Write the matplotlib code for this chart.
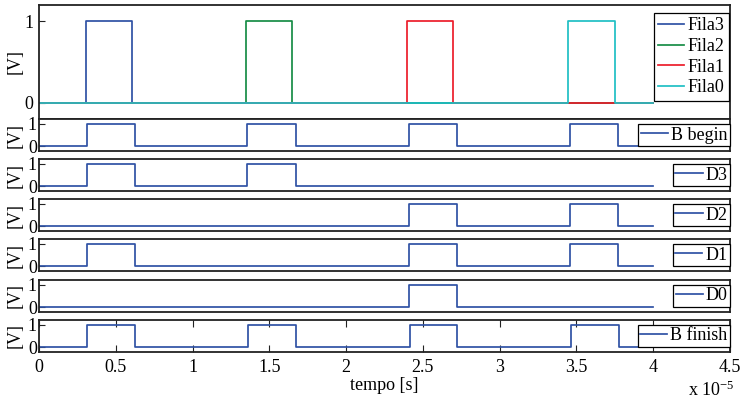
import matplotlib

matplotlib.use("Agg")
import matplotlib.pyplot as plt

plt.rcParams["font.family"] = ["Liberation Serif", "DejaVu Serif"]
plt.rcParams["mathtext.fontset"] = "stix"
plt.rcParams["font.size"] = 13

# tempos em unidades de 1e-5 s; cada lista alterna subida/descida
T_END = 4.0
fila3_edges = [0.306, 0.607]
fila2_edges = [1.348, 1.649]
fila1_edges = [2.394, 2.697]
fila0_edges = [3.448, 3.750]

b_begin_edges = [0.312, 0.625, 1.354, 1.671, 2.410, 2.723, 3.460, 3.770]
d3_edges = [0.312, 0.625, 1.354, 1.671]
d2_edges = [2.410, 2.723, 3.460, 3.770]
d1_edges = [0.312, 0.625, 2.410, 2.723, 3.460, 3.770]
d0_edges = [2.410, 2.723]
b_finish_edges = [0.313, 0.625, 1.358, 1.673, 2.415, 2.723, 3.464, 3.776]

fila_labels = ["Fila3", "Fila2", "Fila1", "Fila0"]
fila_edges = [fila3_edges, fila2_edges, fila1_edges, fila0_edges]
fila_colors = ["#2F52A4", "#178C46", "#EC1C2A", "#1FBFC4"]

small_labels = ["B begin", "D3", "D2", "D1", "D0", "B finish"]
small_edges = [b_begin_edges, d3_edges, d2_edges, d1_edges, d0_edges, b_finish_edges]

x_ticks = [0, 0.5, 1, 1.5, 2, 2.5, 3, 3.5, 4, 4.5]
x_tick_labels = ["0", "0.5", "1", "1.5", "2", "2.5", "3", "3.5", "4", "4.5"]
y_ticks = [0, 1]

W, H = 745, 405
LEFT, RIGHT = 39, 730
SPINE = "#222222"


def square_wave(edges):
    times = [0.0] + list(edges) + [T_END]
    levels = [0] + [(i + 1) % 2 for i in range(len(edges))]
    levels.append(levels[-1])
    return times, levels


def px_axes(fig, top, bottom):
    return fig.add_axes([LEFT / W, 1 - bottom / H, (RIGHT - LEFT) / W, (bottom - top) / H])


def style_axes(ax, show_x, ypad):
    ax.set_xlim(0, 4.5)
    ax.set_ylim(-0.2, 1.2)
    ax.set_yticks(y_ticks)
    ax.set_yticklabels(["0", "1"])
    for spine in ax.spines.values():
        spine.set_color(SPINE)
        spine.set_linewidth(1.3)
    ax.tick_params(axis="y", direction="in", length=4.5, width=0.8, pad=ypad, color=SPINE)
    if show_x:
        ax.set_xticks(x_ticks)
        ax.set_xticklabels(x_tick_labels)
        ax.tick_params(axis="x", direction="in", length=5, width=0.8, top=True, pad=5,
                       color=SPINE)
    else:
        ax.set_xticks([])
    ax.set_ylabel("[V]", fontsize=13)
    ax.yaxis.set_label_coords(-0.022, 0.5)


def main():
    fig = plt.figure(figsize=(W / 100, H / 100), dpi=100)

    ax_top = px_axes(fig, 5, 119)
    for label, edges, color in zip(fila_labels, fila_edges, fila_colors):
        t, v = square_wave(edges)
        ax_top.plot(t, v, drawstyle="steps-post", color=color, linewidth=1.25, label=label)
    style_axes(ax_top, False, 4)
    leg = ax_top.legend(loc="upper right", bbox_to_anchor=(0.998, 0.93), borderaxespad=0,
                        fancybox=False, edgecolor="black", framealpha=1, handlelength=1.45,
                        handletextpad=0.15, borderpad=0.25, labelspacing=0.2, fontsize=13)
    leg.get_frame().set_linewidth(0.9)

    tops = [119, 159, 199, 239, 280, 320]
    for i, (label, edges, top) in enumerate(zip(small_labels, small_edges, tops)):
        ax = px_axes(fig, top, top + 32)
        t, v = square_wave(edges)
        ax.plot(t, v, drawstyle="steps-post", color=fila_colors[0], linewidth=1.25, label=label)
        last = i == len(small_labels) - 1
        style_axes(ax, last, 1.5)
        leg = ax.legend(loc="center right", bbox_to_anchor=(1.0, 0.5), borderaxespad=0,
                        fancybox=False, edgecolor="black", framealpha=1, handlelength=1.5,
                        handletextpad=0.15, borderpad=0.15, fontsize=13)
        leg.get_frame().set_linewidth(0.9)
        if last:
            ax.set_xlabel("tempo [s]", fontsize=13, labelpad=1)

    fig.text(688 / W, 1 - 396 / H, r"x 10$^{\mathregular{-5}}$", fontsize=13, va="baseline")

    fig.savefig("out.png", dpi=100)
    plt.close(fig)


if __name__ == "__main__":
    main()
